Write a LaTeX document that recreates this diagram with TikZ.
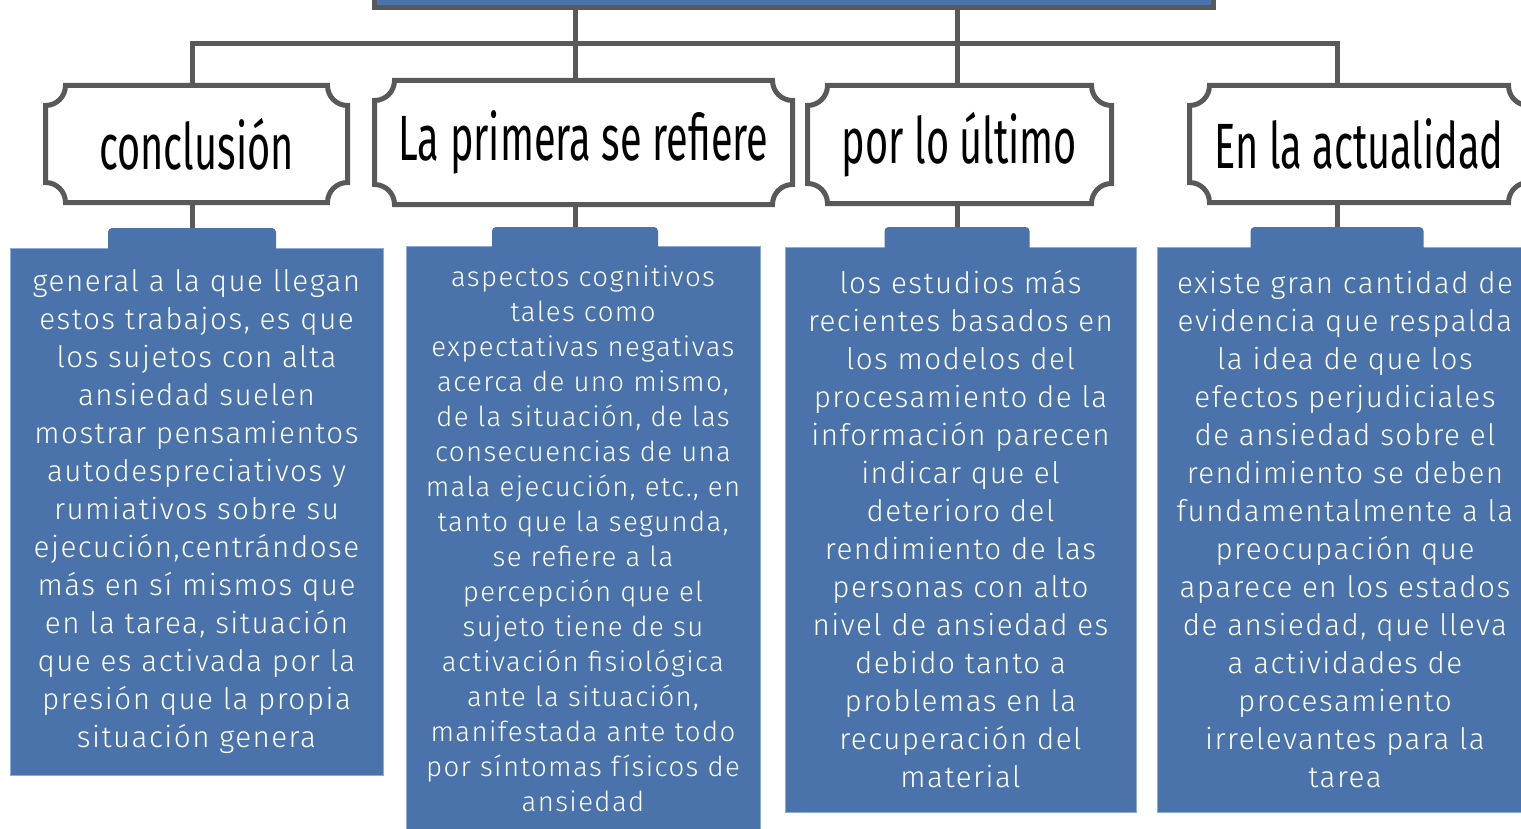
\documentclass[tikz,border=0pt]{standalone}
\usepackage{fontspec}
\setmainfont[LetterSpace=5]{Fira Sans Light}
\newfontfamily\headfont[FakeStretch=0.62]{Fira Sans}
\definecolor{linegray}{HTML}{595959}
\definecolor{boxblue}{HTML}{4A72AB}
\definecolor{edgeblue}{HTML}{8EA9DB}

% concave corners round a header node
\newcommand{\notchframe}[1]{%
  \draw[frame] ([xshift=10pt]#1.north west) -- ([xshift=-10pt]#1.north east)
    arc[start angle=180,end angle=270,radius=10pt] -- ([yshift=10pt]#1.south east)
    arc[start angle=90,end angle=180,radius=10pt] -- ([xshift=10pt]#1.south west)
    arc[start angle=0,end angle=90,radius=10pt] -- ([yshift=-10pt]#1.north west)
    arc[start angle=270,end angle=360,radius=10pt] -- cycle;}

\begin{document}
\begin{tikzpicture}[x=0.5pt,y=-0.5pt,
  link/.style={draw=linegray,line width=2.5pt},
  frame/.style={draw=linegray,line width=2.5pt,fill=white},
  head/.style={inner sep=0pt,outer sep=0pt,font=\headfont\fontsize{32}{36}\selectfont},
  body/.style={fill=boxblue,draw=edgeblue,line width=0.4pt,inner sep=0pt,outer sep=0pt,
    text=white,align=center,font=\fontsize{14.8}{19}\selectfont},
  tab/.style={fill=boxblue,rounded corners=2pt,inner sep=0pt,outer sep=0pt,
    minimum height=14pt}]
  \useasboundingbox (0,0) rectangle (1521,829);
  \clip (0,0) rectangle (1521,829);

  % top box
  \node[fill=boxblue,draw=linegray,line width=2.5pt,outer sep=0pt,
    minimum width=419.5pt,minimum height=40pt] (top) at (794,-32.5) {};

  % blue boxes
  \node[body,minimum width=186.5pt,minimum height=263.5pt] (b1) at (196.5,511.5)
    {general a la que llegan\\estos trabajos, es que\\los sujetos con alta\\ansiedad suelen\\
     mostrar pensamientos\\autodespreciativos y\\rumiativos sobre su\\ejecución,centrándose\\
     más en sí mismos que\\en la tarea, situación\\que es activada por la\\presión que la propia\\
     situación genera};
  \node[body,minimum width=177pt,minimum height=292.5pt,
    font=\fontsize{13.8}{17.5}\selectfont] (b2) at (583,538.5)
    {aspectos cognitivos\\tales como\\expectativas negativas\\acerca de uno mismo,\\
     de la situación, de las\\consecuencias de una\\mala ejecución, etc., en\\
     tanto que la segunda,\\se refiere a la\\percepción que el\\sujeto tiene de su\\
     activación fisiológica\\ante la situación,\\manifestada ante todo\\
     por síntomas físicos de\\ansiedad};
  \node[body,minimum width=175.5pt,minimum height=282.5pt] (b3) at (960.5,529.5)
    {los estudios más\\recientes basados en\\los modelos del\\procesamiento de la\\
     información parecen\\indicar que el\\deterioro del\\rendimiento de las\\
     personas con alto\\nivel de ansiedad es\\debido tanto a\\problemas en la\\
     recuperación del\\material};
  \node[body,minimum width=188pt,minimum height=282.5pt] (b4) at (1345,529.5)
    {existe gran cantidad de\\evidencia que respalda\\la idea de que los\\
     efectos perjudiciales\\de ansiedad sobre el\\rendimiento se deben\\
     fundamentalmente a la\\preocupación que\\aparece en los estados\\
     de ansiedad, que lleva\\a actividades de\\procesamiento\\
     irrelevantes para la\\tarea};
  \node[tab,minimum width=84pt] (t1) at (192,242) {};
  \node[tab,minimum width=83pt] (t2) at (575,241) {};
  \node[tab,minimum width=72.5pt] (t3) at (957,241) {};
  \node[tab,minimum width=86.5pt] (t4) at (1337,241) {};

  % headers
  \node[head,minimum width=151pt,minimum height=58.5pt] (h1) at (196.5,144) {};
  \node[head,minimum width=209pt,minimum height=62pt] (h2) at (583.5,142.5) {};
  \node[head,minimum width=152pt,minimum height=59pt] (h3) at (959.5,144.5) {};
  \node[head,minimum width=169.5pt,minimum height=58.5pt] (h4) at (1359,144) {};

  % connectors
  \coordinate (busL) at (192,44);
  \coordinate (busR) at (1337,44);
  \draw[link] (h1.north -| busL) -- (busL) -- (busR) -- (h4.north -| busR);
  \draw[link] (top.south -| t2.north) -- (h2.north -| t2.north);
  \draw[link] (top.south -| t3.north) -- (h3.north -| t3.north);
  \foreach \i in {1,2,3,4}
    \draw[link] (t\i.north) -- (t\i.north |- h\i.south);

  \foreach \i in {1,2,3,4}
    \notchframe{h\i};
  \node[head] at (h1) {conclusión};
  \node[head] at (h2) {La primera se refiere};
  \node[head] at (h3) {por lo último};
  \node[head] at (h4) {En la actualidad};
\end{tikzpicture}
\end{document}
